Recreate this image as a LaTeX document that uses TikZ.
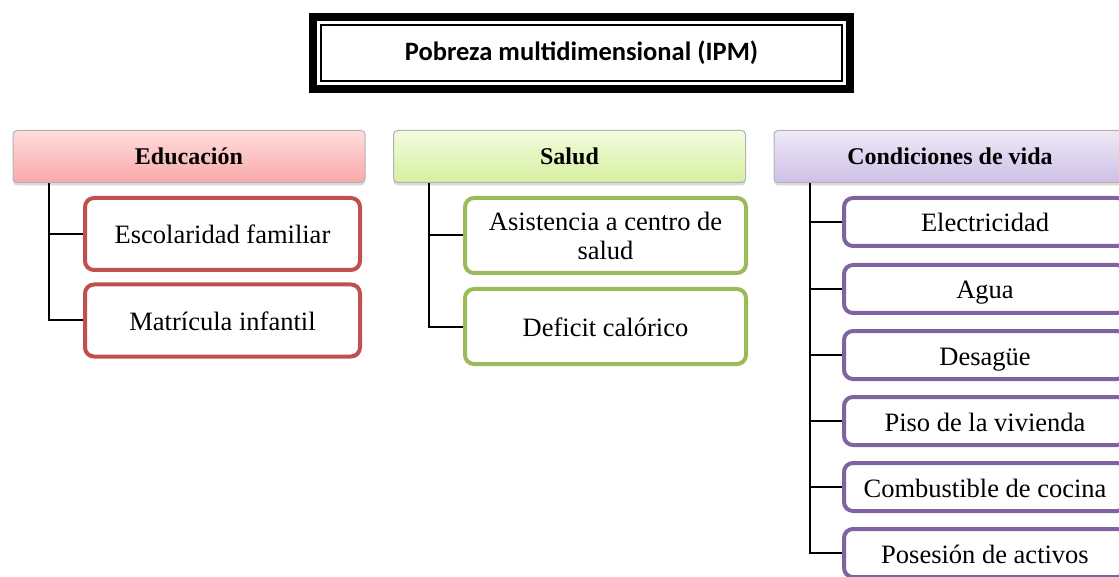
\documentclass[tikz,border=0pt]{standalone}
\usepackage{fontspec}
\setmainfont{Liberation Serif}
\newfontfamily\titlefont{Carlito}
\usetikzlibrary{shadows}

\definecolor{eduline}{HTML}{C0504D}
\definecolor{edutop}{RGB}{255,221,221}
\definecolor{edubot}{RGB}{250,168,168}
\definecolor{salline}{HTML}{9BBB59}
\definecolor{saltop}{RGB}{242,252,222}
\definecolor{salbot}{RGB}{214,240,160}
\definecolor{conline}{HTML}{8064A2}
\definecolor{contop}{RGB}{238,232,246}
\definecolor{conbot}{RGB}{206,192,230}

\begin{document}
\begin{tikzpicture}[x=1pt,y=1pt,
    head/.style={draw=gray!60, line width=1pt, rounded corners=4pt,
      minimum width=352pt, minimum height=52pt,
      font=\bfseries\fontsize{24}{28}\selectfont,
      drop shadow={opacity=0.3, shadow xshift=0pt, shadow yshift=-3pt}},
    item/.style={draw, fill=white, line width=4pt, rounded corners=9pt,
      minimum height=72pt, text height=20pt, text depth=0pt,
      font=\fontsize{26.5}{29}\selectfont},
    link/.style={line width=2pt}]

        % Frame of the picture (right side is cut off)
        \useasboundingbox (0,0) rectangle (1119,-577);
        \clip (0,0) rectangle (1119,-577);

        % Title with double frame
        \node[draw, line width=2pt, minimum width=521pt, minimum height=56pt,
          font=\titlefont\bfseries\fontsize{26.5}{30}\selectfont]
          (ipm) at (581.5,-53) {Pobreza multidimensional (IPM)};
        \draw[line width=8pt] ([shift={(-7,7)}]ipm.north west) rectangle ([shift={(7,-7)}]ipm.south east);

        % Dimension headers
        \node[head, top color=edutop, bottom color=edubot] (edu) at (189,-156.5) {Educación};
        \node[head, top color=saltop, bottom color=salbot] (sal) at (569.5,-156.5) {Salud};
        \node[head, top color=contop, bottom color=conbot] (con) at (950,-156.5) {Condiciones de vida};

        % Educación indicators
        \node[item, draw=eduline, minimum width=275pt] (esc) at (222.5,-234) {Escolaridad familiar};
        \node[item, draw=eduline, minimum width=275pt] (mat) at (222.5,-320.5) {Matrícula infantil};

        % Salud indicators
        \node[item, draw=salline, minimum width=281pt, minimum height=75pt,
          text height={}, text depth={}, align=center] (asi) at (605.5,-235.5) {Asistencia a centro de\\salud};
        \node[item, draw=salline, minimum width=281pt, minimum height=75pt] (def) at (605.5,-326.5) {Deficit calórico};

        % Condiciones de vida indicators
        \node[item, draw=conline, minimum width=282pt, minimum height=48pt] (ele) at (985,-222) {Electricidad};
        \node[item, draw=conline, minimum width=282pt, minimum height=48pt] (agu) at (985,-289) {Agua};
        \node[item, draw=conline, minimum width=282pt, minimum height=48pt] (des) at (985,-355) {Desagüe};
        \node[item, draw=conline, minimum width=282pt, minimum height=48pt] (pis) at (985,-421) {Piso de la vivienda};
        \node[item, draw=conline, minimum width=282pt, minimum height=48pt] (com) at (985,-487) {Combustible de cocina};
        \node[item, draw=conline, minimum width=282pt, minimum height=48pt] (pos) at (985,-553) {Posesión de activos};

        % Connectors
        \foreach \c in {esc,mat}
            \draw[link] ([xshift=36pt]edu.south west) |- (\c.west);
        \foreach \c in {asi,def}
            \draw[link] ([xshift=36pt]sal.south west) |- (\c.west);
        \foreach \c in {ele,agu,des,pis,com,pos}
            \draw[link] ([xshift=36pt]con.south west) |- (\c.west);

\end{tikzpicture}
\end{document}
